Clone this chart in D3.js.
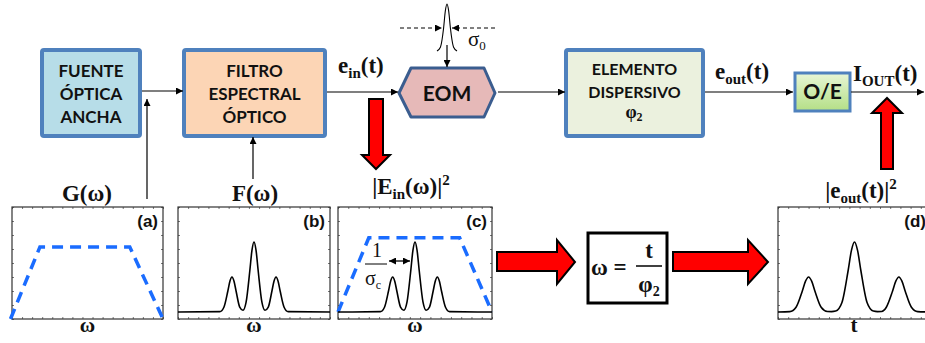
<!DOCTYPE html>
<html>
<head>
<meta charset="utf-8">
<script src="https://cdn.jsdelivr.net/npm/d3@7"></script>
<style>
  body { margin: 0; background: #fff; }
  svg { display: block; }
</style>
</head>
<body>
<script>
// ---- data (x normalised to the panel width, y: 0 = baseline, 1 = main peak)
const gEnvelope = [[-0.01, -0.1], [0.185, 0.93], [0.78, 0.93], [1.0, -0.1]];
const cEnvelope = [[0, 0], [0.2, 1.06], [0.79, 1.06], [1.0, 0]];
const filteredSpectrum = [
  [0, 0], [0.275, 0.005], [0.302, 0.068], [0.328, 0.3], [0.3415, 0.44], [0.355, 0.5], [0.3685, 0.44],
  [0.382, 0.3], [0.406, 0.07], [0.4275, 0.025], [0.448, 0.14], [0.473, 0.6], [0.4865, 0.88], [0.5, 1],
  [0.5135, 0.88], [0.527, 0.6], [0.552, 0.14], [0.5725, 0.025], [0.594, 0.07], [0.618, 0.3], [0.6315, 0.44],
  [0.645, 0.5], [0.6585, 0.44], [0.672, 0.3], [0.698, 0.068], [0.725, 0.005], [1, 0]
];
const outputPulses = [
  [0, 0], [0.077, 0.005], [0.118, 0.068], [0.159, 0.3], [0.18, 0.44], [0.2, 0.5], [0.22, 0.44], [0.241, 0.3],
  [0.282, 0.068], [0.323, 0.008], [0.35, 0.006], [0.377, 0.013], [0.418, 0.135], [0.459, 0.6], [0.48, 0.88],
  [0.5, 1], [0.52, 0.88], [0.541, 0.6], [0.582, 0.135], [0.623, 0.013], [0.65, 0.006], [0.677, 0.008],
  [0.708, 0.068], [0.749, 0.3], [0.77, 0.44], [0.79, 0.5], [0.81, 0.44], [0.831, 0.3], [0.872, 0.068],
  [0.913, 0.005], [1, 0]
];
const probePulse = [
  [-1, 0.02], [-0.66, 0.1], [-0.5, 0.25], [-0.34, 0.5], [-0.17, 0.85], [0, 1],
  [0.17, 0.85], [0.34, 0.5], [0.5, 0.25], [0.66, 0.1], [1, 0.02]
];
const panelTags = ['(a)', '(b)', '(c)', '(d)'];
const axisLabels = ['ω', 'ω', 'ω', 't'];

const SANS = 'Lato, "Open Sans", sans-serif';
const SERIF = '"Liberation Serif", "DejaVu Serif", serif';
const ARIAL = '"Liberation Sans", Arial, sans-serif';
const BLUE = '#4f81bd', RED = '#ff0000', DASH_BLUE = '#1a6cff';

const W = 925, H = 343;
const svg = d3.select('body').append('svg').attr('width', W).attr('height', H);
svg.append('rect').attr('width', W).attr('height', H).attr('fill', '#fff');

const defs = svg.append('defs');
defs.append('marker').attr('id', 'ah').attr('viewBox', '0 0 10 10').attr('refX', 10).attr('refY', 5)
  .attr('markerWidth', 9).attr('markerHeight', 7).attr('markerUnits', 'userSpaceOnUse').attr('orient', 'auto-start-reverse')
  .append('path').attr('d', 'M0,0L10,5L0,10Z').attr('fill', '#000');
const grad = defs.append('linearGradient').attr('id', 'oe').attr('x1', 0).attr('y1', 0).attr('x2', 0).attr('y2', 1);
grad.append('stop').attr('offset', 0).attr('stop-color', '#e8f6d6');
grad.append('stop').attr('offset', 1).attr('stop-color', '#b4df86');

const arrow = (x1, y1, x2, y2, both) => {
  const l = svg.append('line').attr('x1', x1).attr('y1', y1).attr('x2', x2).attr('y2', y2)
    .attr('stroke', '#000').attr('stroke-width', 1.2).attr('marker-end', 'url(#ah)');
  if (both) l.attr('marker-start', 'url(#ah)');
  return l;
};

// ---- top row: blocks
const box = (x, y, w, h, fill, lines, base, step, size) => {
  svg.append('rect').attr('x', x).attr('y', y).attr('width', w).attr('height', h).attr('rx', 2)
    .attr('fill', fill).attr('stroke', BLUE).attr('stroke-width', 4);
  lines.forEach((t, i) => {
    svg.append('text').attr('x', x + w / 2).attr('y', base + i * step).attr('text-anchor', 'middle')
      .attr('font-family', SANS).attr('font-weight', 700).attr('font-size', size).attr('fill', '#111').text(t);
  });
};
box(42, 50, 98, 86, '#b7dde8', ['FUENTE', 'ÓPTICA', 'ANCHA'], 77, 23, 17);
box(184, 50, 141, 86, '#fcd5b5', ['FILTRO', 'ESPECTRAL', 'ÓPTICO'], 77, 23, 17);
box(566, 50, 137, 86, '#ebf1de', ['ELEMENTO', 'DISPERSIVO'], 75, 23, 16);
svg.append('text').attr('x', 634).attr('y', 118).attr('text-anchor', 'middle').attr('font-family', SERIF)
  .attr('font-size', 18).attr('font-weight', 700).attr('fill', '#111')
  .call((t) => { t.append('tspan').text('φ'); t.append('tspan').attr('font-size', 12).attr('dy', 3).text('2'); });

// EOM hexagon
svg.append('path').attr('d', 'M399,93L411,68L484,68L495,93L484,117L411,117Z')
  .attr('fill', '#e6b9b8').attr('stroke', '#3b5d8f').attr('stroke-width', 3).attr('stroke-linejoin', 'round');
svg.append('text').attr('x', 447).attr('y', 101).attr('text-anchor', 'middle').attr('font-family', SANS)
  .attr('font-weight', 700).attr('font-size', 21).attr('fill', '#111').text('EOM');

// O/E
svg.append('rect').attr('x', 795).attr('y', 73).attr('width', 55).attr('height', 38)
  .attr('fill', 'url(#oe)').attr('stroke', BLUE).attr('stroke-width', 3);
svg.append('text').attr('x', 822.5).attr('y', 99).attr('text-anchor', 'middle').attr('font-family', SANS)
  .attr('font-weight', 700).attr('font-size', 21).attr('fill', '#111').text('O/E');

// connecting arrows
arrow(142, 91, 183, 91);
arrow(147, 199, 147, 99);
arrow(253, 179, 253, 137);
arrow(327, 92, 398, 92);
arrow(498, 92, 565, 92);
arrow(705, 92, 793, 92);
arrow(851, 92, 924, 92);

// signal labels
const sigLabel = (x, y, main, sub, tail, sup, anchor) => {
  const t = svg.append('text').attr('x', x).attr('y', y).attr('text-anchor', anchor || 'start')
    .attr('font-family', SERIF).attr('font-weight', 700).attr('font-size', 23).attr('fill', '#111');
  t.append('tspan').text(main);
  t.append('tspan').attr('font-size', 15).attr('dy', 5).text(sub);
  t.append('tspan').attr('dy', -5).text(tail);
  if (sup) t.append('tspan').attr('font-size', 15).attr('dy', -9).text(sup);
  return t;
};
sigLabel(338, 73, 'e', 'in', '(t)');
sigLabel(715, 79, 'e', 'out', '(t)');
sigLabel(853, 81, 'I', 'OUT', '(t)');

// probe pulse above EOM
const px = d3.scaleLinear().domain([-1, 1]).range([437, 457]);
const py = d3.scaleLinear().domain([0, 1]).range([52, 4]);
svg.append('path').datum(probePulse)
  .attr('d', d3.line().x((d) => px(d[0])).y((d) => py(d[1])).curve(d3.curveMonotoneX))
  .attr('fill', 'none').attr('stroke', '#000').attr('stroke-width', 1.1);
arrow(400, 28, 442, 28).attr('stroke-dasharray', '4,3').attr('stroke-width', 1);
arrow(495, 28, 452, 28).attr('stroke-dasharray', '4,3').attr('stroke-width', 1);
arrow(447, 45, 447, 67);
svg.append('text').attr('x', 468).attr('y', 46).attr('font-family', SERIF).attr('font-size', 21).attr('fill', '#111')
  .call((t) => { t.append('tspan').text('σ'); t.append('tspan').attr('font-size', 13).attr('dy', 4).text('0'); });

// red block arrows
const redArrow = (d) => svg.append('path').attr('d', d).attr('fill', RED).attr('stroke', '#000')
  .attr('stroke-width', 2).attr('stroke-linejoin', 'miter');
redArrow('M369,99L383,99L383,155L390,155L376,169L362,155L369,155Z');
redArrow('M881,169L893,169L893,113L902,113L887,98L872,113L881,113Z');
redArrow('M497,252L557,252L557,240L575,262L557,284L557,271L497,271Z');
redArrow('M673,252L748,252L748,240L768,262L748,284L748,271L673,271Z');

// ω = t/φ2 box
svg.append('rect').attr('x', 588).attr('y', 233).attr('width', 79).attr('height', 70)
  .attr('fill', '#fff').attr('stroke', '#000').attr('stroke-width', 3);
svg.append('text').attr('x', 591).attr('y', 275).attr('font-family', SERIF).attr('font-weight', 700)
  .attr('font-size', 23).attr('fill', '#111').text('ω =');
svg.append('text').attr('x', 649).attr('y', 258).attr('text-anchor', 'middle').attr('font-family', SERIF)
  .attr('font-weight', 700).attr('font-size', 23).attr('fill', '#111').text('t');
svg.append('line').attr('x1', 636).attr('x2', 662).attr('y1', 266).attr('y2', 266).attr('stroke', '#000').attr('stroke-width', 1.5);
svg.append('text').attr('x', 649).attr('y', 292).attr('text-anchor', 'middle').attr('font-family', SERIF)
  .attr('font-weight', 700).attr('font-size', 23).attr('fill', '#111')
  .call((t) => { t.append('tspan').text('φ'); t.append('tspan').attr('font-size', 14).attr('dy', 4).text('2'); });

// ---- bottom row: spectra panels
const panels = [
  { x0: 12, x1: 163, curves: [[gEnvelope, 'dash']] },
  { x0: 178, x1: 330, curves: [[filteredSpectrum, 'solid']] },
  { x0: 338, x1: 492, curves: [[cEnvelope, 'dash'], [filteredSpectrum, 'solid']] },
  { x0: 778, x1: 931, curves: [[outputPulses, 'solid']] },
];
const TOP = 207, BOT = 319;
panels.forEach((p, i) => {
  const g = svg.append('g');
  const x = d3.scaleLinear().domain([0, 1]).range([p.x0, p.x1]);
  const y = d3.scaleLinear().domain([0, 1]).range([312, 242]);
  const xt = d3.scaleLinear().domain([0, 15]).range([p.x0, p.x1]);
  const yt = d3.scaleLinear().domain([0, 8]).range([BOT, TOP]);
  const tick = (ax, tx, ty) => g.append('g').attr('transform', `translate(${tx},${ty})`)
    .call(ax.tickSize(-2).tickFormat(''))
    .call((s) => s.select('.domain').remove())
    .call((s) => s.selectAll('line').attr('stroke', '#777'));
  tick(d3.axisBottom(xt).ticks(15), 0, BOT);
  tick(d3.axisTop(xt).ticks(15), 0, TOP);
  tick(d3.axisLeft(yt).ticks(8), p.x0, 0);
  tick(d3.axisRight(yt).ticks(8), p.x1, 0);
  g.append('rect').attr('x', p.x0).attr('y', TOP).attr('width', p.x1 - p.x0).attr('height', BOT - TOP)
    .attr('fill', 'none').attr('stroke', '#333').attr('stroke-width', 1.2);
  p.curves.forEach(([pts, kind]) => {
    const line = d3.line().x((d) => x(d[0])).y((d) => y(d[1]))
      .curve(kind === 'dash' ? d3.curveLinear : d3.curveMonotoneX);
    const path = g.append('path').datum(pts).attr('d', line).attr('fill', 'none');
    if (kind === 'dash') path.attr('stroke', DASH_BLUE).attr('stroke-width', 3.5).attr('stroke-dasharray', '11,7');
    else path.attr('stroke', '#000').attr('stroke-width', 1.6);
  });
  g.append('text').attr('x', p.x1 - 5).attr('y', TOP + 20).attr('text-anchor', 'end').attr('font-family', ARIAL)
    .attr('font-weight', 700).attr('font-size', 17).attr('fill', '#111').text(panelTags[i]);
  g.append('text').attr('x', (p.x0 + Math.min(p.x1, 930)) / 2).attr('y', 332)
    .attr('text-anchor', 'middle').attr('font-family', SERIF).attr('font-weight', 700).attr('font-size', 21)
    .attr('fill', '#111').text(axisLabels[i]);
});

// panel titles
const title = (x, y, parts) => {
  const t = svg.append('text').attr('x', x).attr('y', y).attr('text-anchor', 'middle').attr('font-family', SERIF)
    .attr('font-weight', 700).attr('font-size', 23).attr('fill', '#111');
  parts.forEach(([s, size, dy]) => t.append('tspan').attr('font-size', size).attr('dy', dy).text(s));
};
title(87, 201, [['G(ω)', 23, 0]]);
title(255, 201, [['F(ω)', 23, 0]]);
title(411, 194, [['|E', 23, 0], ['in', 15, 5], ['(ω)|', 23, -5], ['2', 15, -9]]);
title(861, 198, [['|e', 23, 0], ['out', 15, 5], ['(t)|', 23, -5], ['2', 15, -9]]);

// 1/σc annotation in panel (c)
svg.append('text').attr('x', 377).attr('y', 257).attr('text-anchor', 'middle').attr('font-family', SERIF)
  .attr('font-size', 20).attr('fill', '#111').text('1');
svg.append('line').attr('x1', 365).attr('x2', 387).attr('y1', 264).attr('y2', 264).attr('stroke', '#000').attr('stroke-width', 1);
svg.append('text').attr('x', 365).attr('y', 285).attr('font-family', SERIF).attr('font-size', 20).attr('fill', '#111')
  .call((t) => { t.append('tspan').text('σ'); t.append('tspan').attr('font-size', 12).attr('dy', 4).text('c'); });
arrow(389, 261, 410, 261, true).attr('stroke-width', 1.3);
</script>
</body>
</html>
